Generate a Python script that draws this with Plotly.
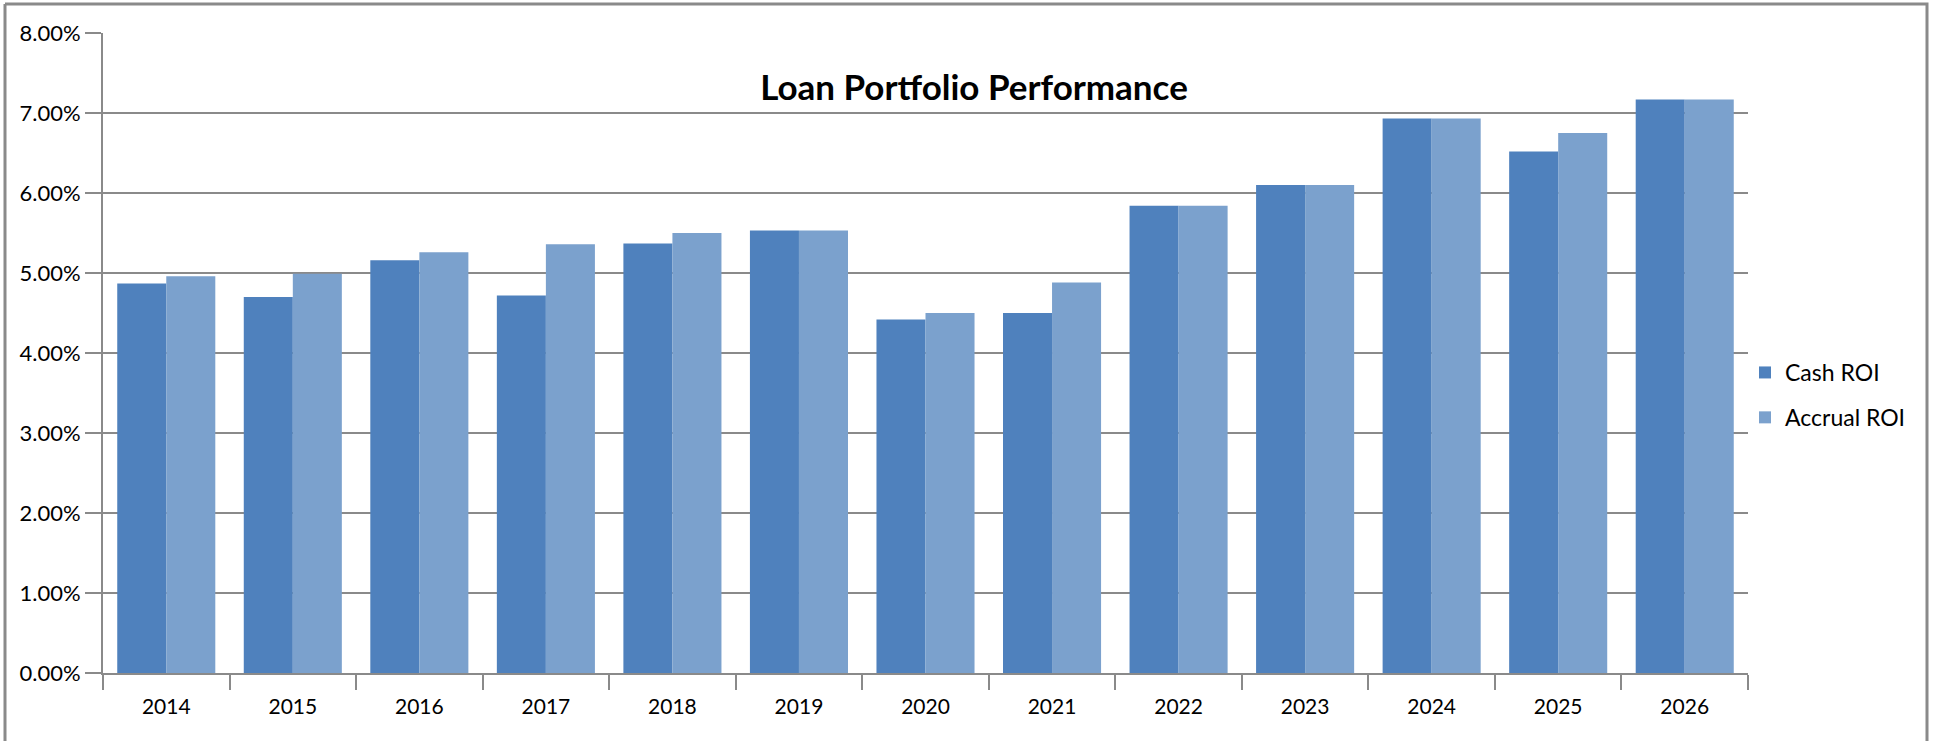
import plotly.graph_objects as go

years = ["2014", "2015", "2016", "2017", "2018", "2019", "2020",
         "2021", "2022", "2023", "2024", "2025", "2026"]
cash_roi = [0.0487, 0.0470, 0.0516, 0.0472, 0.0537, 0.0553, 0.0442,
            0.0450, 0.0584, 0.0610, 0.0693, 0.0652, 0.0717]
accrual_roi = [0.0496, 0.0499, 0.0526, 0.0536, 0.0550, 0.0553, 0.0450,
               0.0488, 0.0584, 0.0610, 0.0693, 0.0675, 0.0717]
y_ticks = [0, 0.01, 0.02, 0.03, 0.04, 0.05, 0.06, 0.07, 0.08]

W, H = 1933, 741
L, R, T, B = 103, 1748, 33, 673
GRID = "#8a8a8a"
FONT = "Lato"


def px(x):
    return (x - L) / (R - L)


def py(y):
    return (B - y) / (B - T)


fig = go.Figure()
fig.add_trace(go.Bar(x=years, y=cash_roi, name="Cash ROI", legendgroup="a",
                     marker=dict(color="#4F81BD", line=dict(width=0))))
fig.add_trace(go.Bar(x=years, y=accrual_roi, name="Accrual ROI", legendgroup="b",
                     marker=dict(color="#7BA1CD", line=dict(width=0))))

border = "M {x0},{y0} L {x1},{y0} L {x1},{y2} M {x0},{y0} L {x0},{y2}".format(
    x0=px(5), y0=py(4), x1=px(1927), y2=py(760))

fig.update_layout(
    width=W, height=H,
    margin=dict(l=L, r=W - R, t=T, b=H - B, autoexpand=False),
    paper_bgcolor="white", plot_bgcolor="white",
    barmode="group", bargap=0.225, bargroupgap=0,
    font=dict(family=FONT, color="#000000", size=21),
    title=dict(text="<b>Loan Portfolio Performance</b>",
               font=dict(family=FONT, size=35, color="#000000"),
               xref="paper", x=px(974), xanchor="center",
               yref="container", y=1 - 88 / H, yanchor="middle"),
    xaxis=dict(type="category", range=[-0.5, 12.5], tickson="boundaries",
               ticks="outside", ticklen=15, tickwidth=2, tickcolor=GRID,
               showline=True, linecolor=GRID, linewidth=2, showgrid=False,
               ticklabelstandoff=14,
               tickfont=dict(family=FONT, size=21, color="#000000")),
    yaxis=dict(range=[0, 0.08], tickvals=y_ticks, tickformat=".2%",
               ticks="outside", ticklen=16, tickwidth=2, tickcolor=GRID,
               showline=True, linecolor=GRID, linewidth=2,
               showgrid=True, gridcolor=GRID, gridwidth=2, zeroline=False,
               tickfont=dict(family=FONT, size=22, color="#000000")),
    legend=dict(x=px(1745), xanchor="left", y=py(351), yanchor="top",
                traceorder="grouped", tracegroupgap=12,
                font=dict(family=FONT, size=23, color="#000000"),
                bgcolor="rgba(0,0,0,0)", itemwidth=30),
    shapes=[dict(type="path", path=border, xref="paper", yref="paper",
                 line=dict(color="#8a8a8a", width=3))],
)

fig.write_html("out.html")
